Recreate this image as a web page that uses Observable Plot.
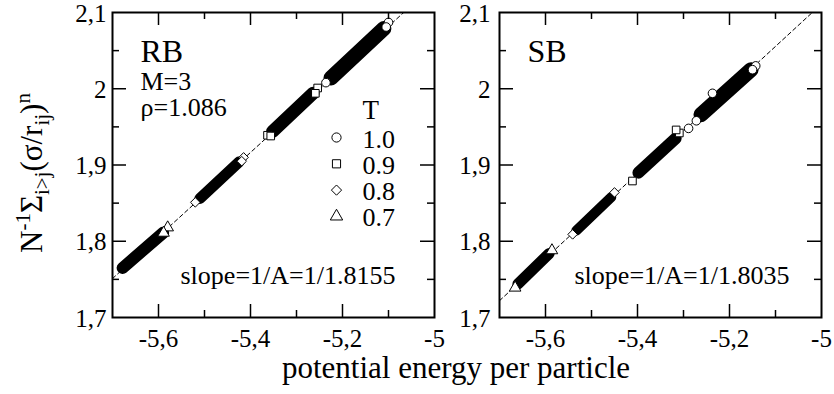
<!DOCTYPE html>
<html><head><meta charset="utf-8">
<script src="https://cdn.jsdelivr.net/npm/d3@7"></script>
<script src="https://cdn.jsdelivr.net/npm/@observablehq/plot@0.6"></script>
<style>
body{margin:0;background:#fff;}
#wrap{position:relative;width:834px;height:394px;overflow:hidden;background:#fff;}
#wrap > svg{position:absolute;top:0;}
</style></head><body><div id="wrap"></div>
<script>
const temps = ["1.0", "0.9", "0.8", "0.7"];

// RB panel: dense clusters (start / end along the fit)
const rbClusterT  = ["0.7", "0.8", "0.9", "1.0"];
const rbClusterX0 = [-5.678, -5.510, -5.352, -5.225];
const rbClusterY0 = [1.765, 1.856, 1.944, 2.014];
const rbClusterX1 = [-5.590, -5.425, -5.264, -5.110];
const rbClusterY1 = [1.811, 1.904, 1.994, 2.079];
// RB individually visible markers
const rbPointT = ["0.7","0.7","0.8","0.8","0.8","0.9","0.9","0.9","0.9","1.0","1.0","1.0"];
const rbPointX = [-5.580,-5.589,-5.520,-5.415,-5.419,-5.363,-5.356,-5.254,-5.259,-5.100,-5.105,-5.236];
const rbPointY = [1.818,1.811,1.851,1.910,1.905,1.939,1.938,2.001,1.994,2.087,2.081,2.008];
// RB fit line
const rbFitX = [-5.7, -5.067];
const rbFitY = [1.751, 2.1];

// SB panel
const sbClusterT  = ["0.7", "0.8", "0.9", "1.0"];
const sbClusterX0 = [-5.660, -5.533, -5.398, -5.262];
const sbClusterY0 = [1.744, 1.814, 1.890, 1.966];
const sbClusterX1 = [-5.592, -5.457, -5.317, -5.153];
const sbClusterY1 = [1.784, 1.858, 1.935, 2.025];
const sbPointT = ["0.7","0.7","0.8","0.8","0.9","0.9","0.9","1.0","1.0","1.0","1.0","1.0"];
const sbPointX = [-5.666,-5.586,-5.541,-5.450,-5.411,-5.309,-5.316,-5.289,-5.272,-5.143,-5.150,-5.237];
const sbPointY = [1.739,1.788,1.809,1.864,1.879,1.942,1.946,1.948,1.958,2.030,2.025,1.994];
const sbFitX = [-5.7, -5.02];
const sbFitY = [1.722, 2.1];

// ticks
const xMajor = [-5.6, -5.4, -5.2];
const xMinor = [-5.5, -5.3, -5.1];
const xLabels = [-5.6, -5.4, -5.2, -5.0];
const yMajor = [1.8, 1.9, 2.0];
const yMinor = [1.75, 1.85, 1.95, 2.05];
const yLabels = [1.7, 1.8, 1.9, 2.0, 2.1];

const FONT = "Liberation Serif";
const fmt = d => String(+(+d).toFixed(2)).replace(".", ",");
const symRange = [d3.symbolCircle, d3.symbolSquare, d3.symbolDiamond2, d3.symbolTriangle];
const symOf = t => symRange[temps.indexOf(t)];

function panel(o) {
  const H = 394, mt = 12, mb = 77;
  const fw = o.width - o.ml - o.mr, fh = H - mt - mb;
  const clusters = o.cT.map((t, i) => ({t, x0: o.cX0[i], y0: o.cY0[i], x1: o.cX1[i], y1: o.cY1[i]}));
  const pts = o.pT.map((t, i) => ({t, x: o.pX[i], y: o.pY[i]}));
  const fit = o.fX.map((x, i) => ({x, y: o.fY[i]}));
  const txt = (s, dx, dy, size) => Plot.text([s], {frameAnchor: "top-left", dx, dy, text: d => d,
      textAnchor: "start", lineAnchor: "bottom", fontSize: size, fontFamily: FONT, fill: "black"});
  const marks = [
    Plot.line(fit, {x: "x", y: "y", stroke: "black", strokeWidth: 1, strokeDasharray: "4,3"}),
    Plot.link(clusters, {x1: "x0", y1: "y0", x2: "x1", y2: "y1", stroke: "black",
      strokeWidth: d => o.widths[d.t], strokeLinecap: "round"}),
    Plot.dot(pts, {x: "x", y: "y", symbol: d => symOf(d.t), r: 4.3, stroke: "black", fill: "white", strokeWidth: 1}),
    Plot.tickX(xMajor, {x: d => d, insetTop: fh - 13, stroke: "black", strokeWidth: 1.5}),
    Plot.tickX(xMajor, {x: d => d, insetBottom: fh - 13, stroke: "black", strokeWidth: 1.5}),
    Plot.tickX(xMinor, {x: d => d, insetTop: fh - 7, stroke: "black", strokeWidth: 1.5}),
    Plot.tickX(xMinor, {x: d => d, insetBottom: fh - 7, stroke: "black", strokeWidth: 1.5}),
    Plot.tickY(yMajor, {y: d => d, insetRight: fw - 14, stroke: "black", strokeWidth: 1.5}),
    Plot.tickY(yMajor, {y: d => d, insetLeft: fw - 14, stroke: "black", strokeWidth: 1.5}),
    Plot.tickY(yMinor, {y: d => d, insetRight: fw - 7, stroke: "black", strokeWidth: 1.5}),
    Plot.tickY(yMinor, {y: d => d, insetLeft: fw - 7, stroke: "black", strokeWidth: 1.5}),
    Plot.frame({stroke: "black", strokeWidth: 2}),
    Plot.axisX(xLabels, {tickSize: 0, tickPadding: 12, tickFormat: fmt, fontSize: 25, fontFamily: FONT, label: null, color: "black"}),
    Plot.axisY(yLabels, {tickSize: 0, tickPadding: o.yPad, tickFormat: fmt, fontSize: 25, fontFamily: FONT, label: null, color: "black", dy: 1}),
    txt(o.name, 28, 49, 32),
    txt(o.slope, o.slopeDx, 271, 26)
  ];
  if (o.info) {
    marks.push(txt("M=3", 28, 77, 26));
    marks.push(txt("ρ=1.086", 28, 103, 26));
    marks.push(txt("T", 250, 106, 27));
    temps.forEach((t, i) => {
      marks.push(Plot.dot([t], {frameAnchor: "top-left", dx: 224, dy: 125 + i * 26.3,
        symbol: symOf(t), r: 4.6, stroke: "black", fill: "none", strokeWidth: 1}));
      marks.push(txt(t, 250, 135 + i * 26.3, 26));
    });
  }
  const svg = Plot.plot({
    width: o.width, height: H,
    marginLeft: o.ml, marginRight: o.mr, marginTop: mt, marginBottom: mb,
    x: {domain: [-5.7, -5.0]},
    y: {domain: [1.7, 2.1]},
    style: {fontFamily: FONT, color: "black", background: "transparent", overflow: "visible"},
    marks
  });
  svg.style.left = o.left + "px";
  return svg;
}

const wrap = document.getElementById("wrap");
wrap.appendChild(panel({
  left: 0, width: 450, ml: 112, mr: 16, yPad: 6, name: "RB", info: true,
  slope: "slope=1/A=1/1.8155", slopeDx: 68,
  cT: rbClusterT, cX0: rbClusterX0, cY0: rbClusterY0, cX1: rbClusterX1, cY1: rbClusterY1,
  pT: rbPointT, pX: rbPointX, pY: rbPointY, fX: rbFitX, fY: rbFitY,
  widths: {"0.7": 12, "0.8": 11, "0.9": 13, "1.0": 15}
}));
wrap.appendChild(panel({
  left: 450, width: 384, ml: 49, mr: 13, yPad: 9, name: "SB", info: false,
  slope: "slope=1/A=1/1.8035", slopeDx: 75,
  cT: sbClusterT, cX0: sbClusterX0, cY0: sbClusterY0, cX1: sbClusterX1, cY1: sbClusterY1,
  pT: sbPointT, pX: sbPointX, pY: sbPointY, fX: sbFitX, fY: sbFitY,
  widths: {"0.7": 11, "0.8": 10, "0.9": 12, "1.0": 15}
}));

// overlay with axis titles
const ov = d3.create("svg").attr("width", 834).attr("height", 394)
  .style("left", "0px").style("pointer-events", "none")
  .attr("font-family", FONT).attr("fill", "black");
ov.append("text").attr("x", 456).attr("y", 378).attr("text-anchor", "middle")
  .attr("font-size", 31).text("potential energy per particle");
const yl = ov.append("text").attr("transform", "translate(42,253) rotate(-90)")
  .attr("font-size", 31);
yl.append("tspan").text("N");
yl.append("tspan").attr("font-size", 21).attr("dy", -12).text("-1");
yl.append("tspan").attr("dy", 12).text("Σ");
yl.append("tspan").attr("font-size", 21).attr("dy", 7).text("i>j");
yl.append("tspan").attr("dy", -7).text("(σ/r");
yl.append("tspan").attr("font-size", 21).attr("dy", 7).text("ij");
yl.append("tspan").attr("dy", -7).text(")");
yl.append("tspan").attr("font-size", 21).attr("dy", -12).text("n");
wrap.appendChild(ov.node());
</script></body></html>
